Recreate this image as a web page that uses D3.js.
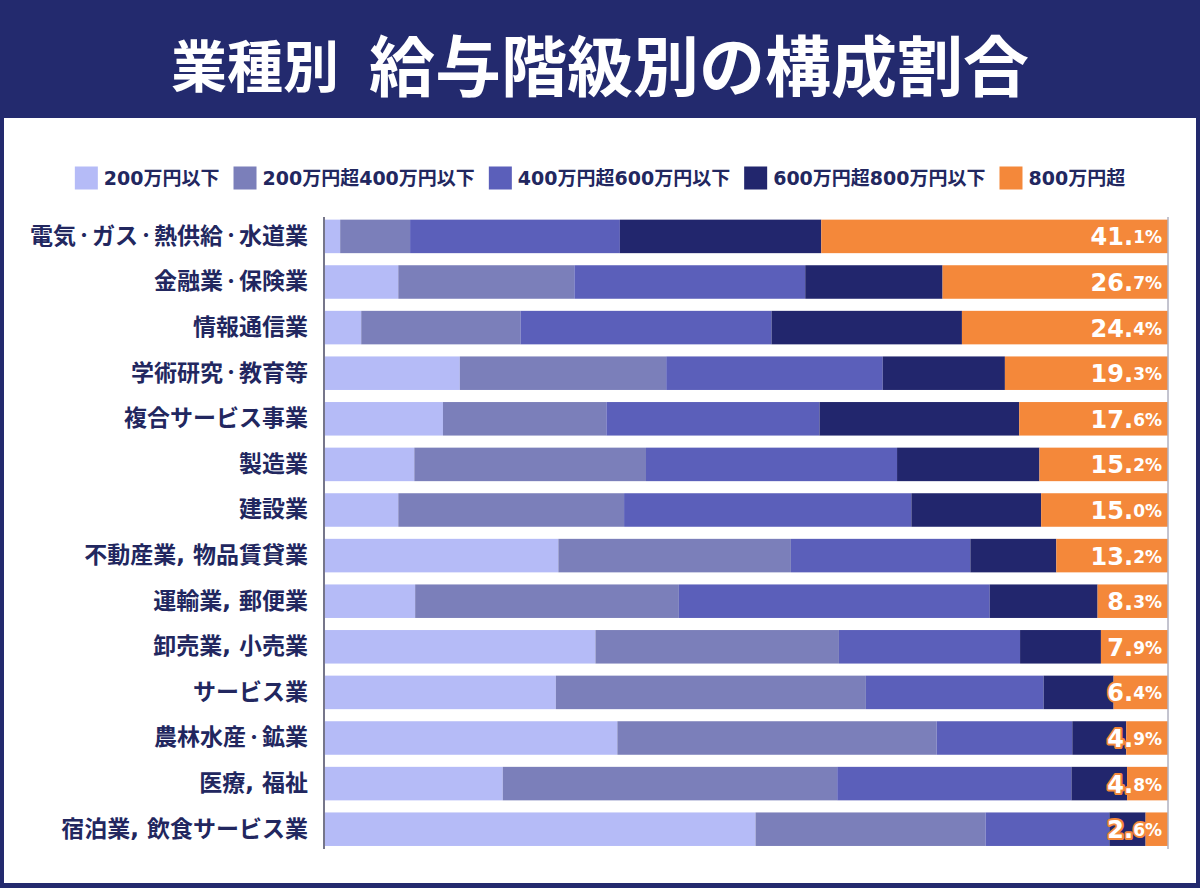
<!DOCTYPE html>
<html>
<head>
<meta charset="utf-8">
<script src="https://cdn.jsdelivr.net/npm/d3@7"></script>
<style>
  body { margin: 0; background: #232a6e; }
  svg { display: block; }
</style>
</head>
<body>
<script>
'use strict'
// data (percent of workers per income band)
const categories = ["電気・ガス・熱供給・水道業", "金融業・保険業", "情報通信業", "学術研究・教育等",
	"複合サービス事業", "製造業", "建設業", "不動産業, 物品賃貸業", "運輸業, 郵便業",
	"卸売業, 小売業", "サービス業", "農林水産・鉱業", "医療, 福祉", "宿泊業, 飲食サービス業"];
const bandNames = ["200万円以下", "200万円超400万円以下", "400万円超600万円以下", "600万円超800万円以下", "800万円超"];
const under200   = [1.8, 8.7, 4.3, 16.0, 14.0, 10.6, 8.7, 27.7, 10.7, 32.1, 27.4, 34.7, 21.1, 51.1];
const from200    = [8.3, 20.9, 18.9, 24.5, 19.4, 27.5, 26.8, 27.6, 31.3, 28.9, 36.8, 37.9, 39.7, 27.3];
const from400    = [24.9, 27.4, 29.8, 25.7, 25.3, 29.8, 34.1, 21.3, 36.9, 21.5, 21.1, 16.1, 27.8, 14.7];
const from600    = [23.9, 16.3, 22.6, 14.5, 23.7, 16.9, 15.4, 10.2, 12.8, 9.6, 8.3, 6.4, 6.6, 4.3];
const over800    = [41.1, 26.7, 24.4, 19.3, 17.6, 15.2, 15.0, 13.2, 8.3, 7.9, 6.4, 4.9, 4.8, 2.6];
const series = [under200, from200, from400, from600, over800];
const colors = ["#b5bbf7", "#7b7fba", "#5b5fba", "#22266d", "#f4883a"];

const w = 1200;
const h = 888;
const navy = "#232a6e";
const textNavy = "#22275f";
const latinFont = "'DejaVu Sans', 'Noto Sans CJK JP', sans-serif";
const cjkFont = "'Noto Sans CJK JP', sans-serif";

const rows = categories.map((c, i) => {
	const r = { name: c };
	bandNames.forEach((k, j) => r[k] = series[j][i]);
	return r;
});
const stacked = d3.stack().keys(bandNames)(rows);

const svg = d3.select("body").append("svg")
	.attr("width", w)
	.attr("height", h);

// frame
svg.append("rect").attr("width", w).attr("height", h).attr("fill", navy);
svg.append("rect")
	.attr("x", 4).attr("y", 118)
	.attr("width", w - 8).attr("height", h - 118 - 5)
	.attr("fill", "#fff");

// title
const title = svg.append("text")
	.attr("x", w / 2)
	.attr("y", 62)
	.attr("text-anchor", "middle")
	.attr("dominant-baseline", "central")
	.attr("fill", "#fff")
	.attr("font-family", cjkFont)
	.attr("font-weight", 700);
title.append("tspan").attr("font-size", 56).text("業種別");
title.append("tspan").attr("font-size", 66).attr("dx", 30).text("給与階級別の構成割合");

// scales
const xScale = d3.scaleLinear()
	.domain([0, 100])
	.range([325, 1167.5]);

const yScale = d3.scaleBand()
	.domain(categories)
	.range([213.6, 852])
	.paddingInner(0.265)
	.paddingOuter(0.1325);

// legend
const legend = svg.append("g").attr("class", "legend");
let lx = 0;
bandNames.forEach((k, i) => {
	const g = legend.append("g").attr("transform", "translate(" + lx + ",0)");
	g.append("rect")
		.attr("x", 0).attr("y", -11.5)
		.attr("width", 23).attr("height", 23)
		.attr("fill", colors[i]);
	const t = g.append("text")
		.attr("x", 29)
		.attr("y", 0)
		.attr("dominant-baseline", "central")
		.attr("font-family", latinFont)
		.attr("font-weight", 700)
		.attr("font-size", 19)
		.attr("fill", textNavy)
		.text(k);
	lx += 29 + t.node().getComputedTextLength() + 14;
});
const legendWidth = lx - 14;
legend.attr("transform", "translate(" + (w / 2 - legendWidth / 2) + ",178)");

// bars
svg.append("g")
	.selectAll("g")
	.data(stacked)
	.enter()
	.append("g")
	.attr("fill", (d, i) => colors[i])
	.selectAll("rect")
	.data((d) => d)
	.enter()
	.append("rect")
	.attr("x", (d) => xScale(d[0]))
	.attr("y", (d) => yScale(d.data.name))
	.attr("width", (d) => xScale(d[1]) - xScale(d[0]))
	.attr("height", yScale.bandwidth());

// axis lines
svg.append("line")
	.attr("x1", 324).attr("x2", 324)
	.attr("y1", 217).attr("y2", 849)
	.attr("stroke", "#76768a").attr("stroke-width", 2);
svg.append("line")
	.attr("x1", xScale(100) + 0.5).attr("x2", xScale(100) + 0.5)
	.attr("y1", 217).attr("y2", 849)
	.attr("stroke", "#8a8aa0").attr("stroke-width", 1);

// category labels (middle dots set smaller so they take less room, like the original)
const yAxis = d3.axisLeft(yScale).tickSize(0).tickPadding(16);
const ya = svg.append("g")
	.attr("transform", "translate(324,0)")
	.call(yAxis);
ya.select(".domain").remove();
ya.selectAll("text")
	.attr("font-family", latinFont)
	.attr("font-weight", 700)
	.attr("font-size", 23)
	.attr("fill", textNavy)
	.each(function(d) {
		const t = d3.select(this).text(null);
		d.split("・").forEach((part, i) => {
			if (i > 0) {
				t.append("tspan").attr("font-size", 16).attr("dy", -2.5).text("・");
				t.append("tspan").attr("dy", 2.5).text(part);
			} else {
				t.append("tspan").text(part);
			}
		});
	});

// value labels for the top band
svg.append("g")
	.selectAll("text")
	.data(rows)
	.enter()
	.append("text")
	.attr("x", 1162)
	.attr("y", (d) => yScale(d.name) + yScale.bandwidth() / 2 + 1)
	.attr("text-anchor", "end")
	.attr("dominant-baseline", "central")
	.attr("font-family", latinFont)
	.attr("font-weight", 700)
	.attr("fill", "#fff")
	.attr("stroke", "#f4883a")
	.attr("stroke-width", 4)
	.attr("stroke-linejoin", "round")
	.attr("paint-order", "stroke")
	.each(function(d) {
		const parts = d["800万円超"].toFixed(1).split(".");
		const t = d3.select(this);
		t.append("tspan").attr("font-size", 24).text(parts[0] + ".");
		t.append("tspan").attr("font-size", 17).text(parts[1] + "%");
	});
</script>
</body>
</html>
